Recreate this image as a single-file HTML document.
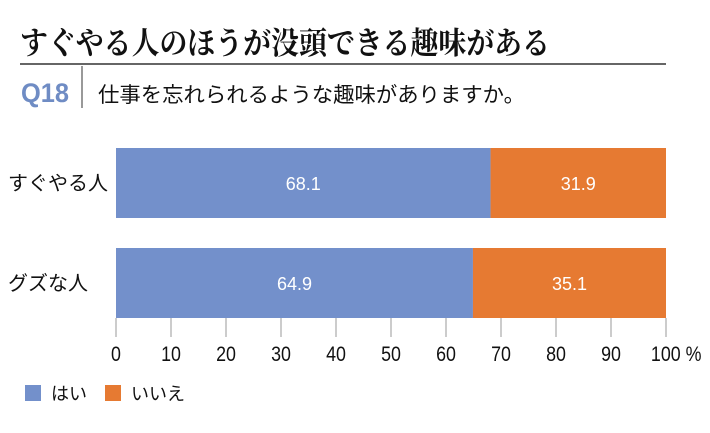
<!DOCTYPE html>
<html><head><meta charset="utf-8"><style>
body{margin:0;background:#fff;width:710px;height:428px;overflow:hidden;font-family:"Liberation Sans","Noto Sans CJK JP",sans-serif}
</style></head><body>
<svg width="710" height="428" xmlns="http://www.w3.org/2000/svg">
<text x="20" y="54" font-size="31" font-weight="bold" textLength="530" lengthAdjust="spacingAndGlyphs" font-family="'Liberation Serif','Noto Serif CJK SC',serif" fill="#111">すぐやる人のほうが没頭できる趣味がある</text>
<line x1="20" y1="64" x2="666" y2="64" stroke="#333" stroke-width="1.5"/>
<text x="21" y="102" font-size="27" font-weight="bold" fill="#6f8cc4" font-family="'Liberation Sans Narrow','Liberation Sans',sans-serif" textLength="48" lengthAdjust="spacingAndGlyphs">Q18</text>
<line x1="82" y1="66" x2="82" y2="108" stroke="#333" stroke-width="1"/>
<text x="98" y="102" font-size="21" textLength="427" lengthAdjust="spacingAndGlyphs" fill="#111">仕事を忘れられるような趣味がありますか。</text>
<g id="plot"></g>
</svg>
<script>
const categories=["すぐやる人","グズな人"];
const yesValues=[68.1,64.9];
const noValues=[31.9,35.1];
const ticks=[0,10,20,30,40,50,60,70,80,90,100];
const NS="http://www.w3.org/2000/svg";
const g=document.getElementById('plot');
const x0=116,x1=666;
const X=v=>x0+(x1-x0)*v/100;
const bandTop=[148,248],bandH=70;
const narrow="'Liberation Sans Narrow','Liberation Sans',sans-serif";
function mk(t,a,txt){const e=document.createElementNS(NS,t);for(const k in a)e.setAttribute(k,a[k]);if(txt!=null)e.textContent=txt;g.appendChild(e);return e;}
ticks.forEach(t=>{
 const l=mk('line',{x1:X(t),x2:X(t),y1:318,y2:337,stroke:'#999','stroke-width':1});
 
 
 const tx=mk('text',{x:X(t),y:361,'font-size':21,'text-anchor':'middle',fill:'#111','font-family':narrow},t===100?'100 %':String(t));
 if(t===100)tx.setAttribute('x',X(t)+12);
 tx.setAttribute('transform',`translate(${X(t)},0) scale(0.85,1) translate(${-X(t)},0)`);
 
 
});
categories.forEach((c,i)=>{
 const yb=bandTop[i];
 const r1=mk('rect',{x:X(0),y:yb,width:X(yesValues[i])-X(0),height:bandH,fill:'#7390cb'});
 
 
 const r2=mk('rect',{x:X(yesValues[i]),y:yb,width:X(yesValues[i]+noValues[i])-X(yesValues[i]),height:bandH,fill:'#e67a32'});
 
 
 const l1=mk('text',{x:(X(0)+X(yesValues[i]))/2,y:yb+42,'font-size':18,fill:'#fff','text-anchor':'middle','font-family':narrow},yesValues[i].toFixed(1));
 
 
 const l2=mk('text',{x:(X(yesValues[i])+X(100))/2,y:yb+42,'font-size':18,fill:'#fff','text-anchor':'middle','font-family':narrow},noValues[i].toFixed(1));
 
 
 const cl=mk('text',{x:8,y:yb+42,'font-size':20,fill:'#111'},c);
 
 
});
const legend=[['はい','#7390cb',25],['いいえ','#e67a32',105]];
legend.forEach(([t,c,x])=>{
 const r=mk('rect',{x:x,y:385,width:16,height:16,fill:c});
 
 
 const tx=mk('text',{x:x+26,y:400,'font-size':18,fill:'#111'},t);
 
 
});
</script>
</body></html>
